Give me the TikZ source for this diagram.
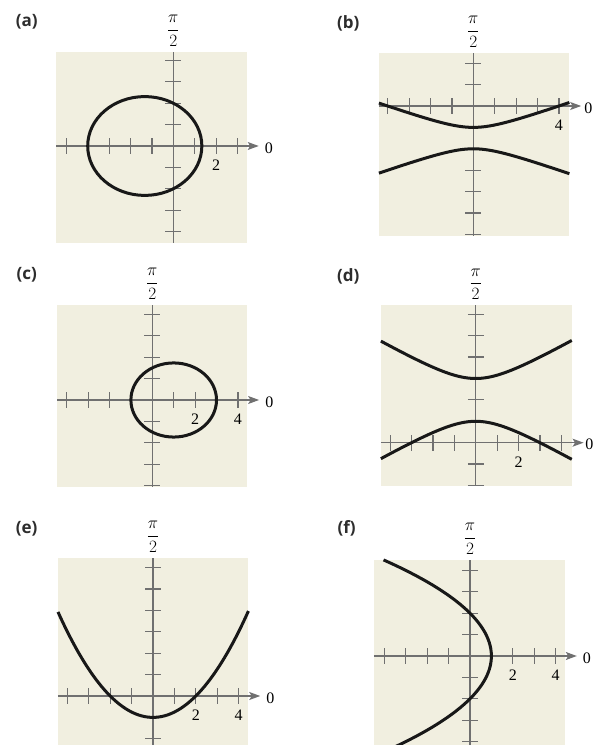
\documentclass[tikz,border=0pt]{standalone}
\usepackage{amsmath}
\usepackage{fontspec}
\setmainfont{Liberation Serif}
\newfontfamily\tagfont{Open Sans}
\usetikzlibrary{arrows.meta,positioning}
\definecolor{paper}{RGB}{241,239,224}
\definecolor{axisgray}{RGB}{112,112,112}
\definecolor{curveblack}{RGB}{24,24,24}
\definecolor{taggray}{RGB}{45,45,45}

% box, axes, ticks and the pi/2 label of one panel
% #1 panel id, #2 xmin, #3 xmax, #4 ymin, #5 ymax
\newcommand{\polargrid}[5]{%
  \fill[paper] (#2,#4) rectangle (#3,#5);
  \pgfmathtruncatemacro{\xlo}{ceil(#2)}
  \pgfmathtruncatemacro{\xhi}{floor(#3)}
  \pgfmathtruncatemacro{\ylo}{ceil(#4)}
  \pgfmathtruncatemacro{\yhi}{floor(#5)}
  \draw[axis] (0,#4) -- (0,#5);
  \draw[axis,-{Stealth[length=11pt,width=8pt,inset=2.5pt]}] (#2,0) -- (#3+0.55,0) coordinate (tip#1);
  \foreach \i in {\xlo,...,\xhi}
    \draw[axis] (\i,-0.37) -- (\i,0.37);
  \foreach \j in {\ylo,...,\yhi}
    \draw[axis] (-0.37,\j) -- (0.37,\j);
  \node[num,anchor=south] (half#1) at (0,#5+0.25) {$\dfrac{\pi}{2}$};
}

\begin{document}
\begin{tikzpicture}[x=1pt,y=1pt,
    axis/.style={axisgray,line width=1.2pt},
    curve/.style={curveblack,line width=3pt},
    num/.style={font=\fontsize{16}{16}\selectfont,inner sep=0pt},
    tag/.style={taggray,font=\tagfont\bfseries\fontsize{17}{17}\selectfont},
    panel/.style={x=21.4pt,y=21.4pt}]
  \useasboundingbox (0,0) rectangle (595,745);

  % (a) ellipse
  \node[tag] (taga) at (26.7,723.3) {(a)};
  \begin{scope}[shift={(173.3pt,599pt)},panel]
    \polargrid{a}{-5.48}{3.44}{-4.53}{4.39}
    \node[num,right=6pt of tipa,yshift=-2pt] (zeroa) {0};
    \node[num] (twoa) at (2,-0.91) {2};
    \draw[curve] (-1.333,0) ellipse [x radius=2.667,y radius=2.309];
  \end{scope}

  % (b) hyperbola, both vertices below the pole
  \node[tag] (tagb) at (348.3,721.7) {(b)};
  \begin{scope}[shift={(473.3pt,639pt)},panel]
    \polargrid{b}{-4.41}{4.49}{-6.07}{2.49}
    \node[num,right=3pt of tipb,yshift=-2pt] (zerob) {0};
    \node[num] (fourb) at (4,-0.91) {4};
    \draw[curve] plot[domain=-4.41:4.49,samples=60,smooth] (\x,{-1.5+0.5*sqrt(1+\x*\x/2)});
    \draw[curve] plot[domain=-4.41:4.49,samples=60,smooth] (\x,{-1.5-0.5*sqrt(1+\x*\x/2)});
  \end{scope}

  % (c) ellipse
  \node[tag] (tagc) at (26.7,470) {(c)};
  \begin{scope}[shift={(152.3pt,345pt)},panel]
    \polargrid{c}{-4.44}{4.44}{-4.05}{4.44}
    \node[num,right=6pt of tipc,yshift=-2pt] (zeroc) {0};
    \node[num] (twoc) at (2,-0.91) {2};
    \node[num] (fourc) at (4,-0.91) {4};
    \draw[curve] (1,0) ellipse [x radius=2,y radius=1.732];
  \end{scope}

  % (d) hyperbola, both vertices above the pole
  \node[tag] (tagd) at (348.3,469) {(d)};
  \begin{scope}[shift={(475.7pt,302.3pt)},panel]
    \polargrid{d}{-4.43}{4.49}{-2.02}{6.43}
    \node[num,right=1.5pt of tipd,yshift=-2pt] (zerod) {0};
    \node[num] (twod) at (2,-0.91) {2};
    \draw[curve] plot[domain=-4.43:4.49,samples=60,smooth] (\x,{2+sqrt(1+\x*\x/3)});
    \draw[curve] plot[domain=-4.43:4.49,samples=60,smooth] (\x,{2-sqrt(1+\x*\x/3)});
  \end{scope}

  % (e) parabola opening up
  \node[tag] (tage) at (26.7,216.7) {(e)};
  \begin{scope}[shift={(153pt,49pt)},panel]
    \polargrid{e}{-4.44}{4.46}{-3}{6.46}
    \node[num,right=6pt of tipe,yshift=-2pt] (zeroe) {0};
    \node[num] (twoe) at (2,-0.91) {2};
    \node[num] (foure) at (4,-0.91) {4};
    \draw[curve] plot[domain=-4.44:4.46,samples=60,smooth] (\x,{\x*\x/4-1});
  \end{scope}

  % (f) parabola opening left
  \node[tag] (tagf) at (346.7,216.7) {(f)};
  \begin{scope}[shift={(470pt,89pt)},panel]
    \polargrid{f}{-4.49}{4.44}{-4.5}{4.49}
    \node[num,right=6pt of tipf,yshift=-2pt] (zerof) {0};
    \node[num] (twof) at (2,-0.91) {2};
    \node[num] (fourf) at (4,-0.91) {4};
    \draw[curve] plot[domain=-4.6:4.49,samples=60,smooth] ({1-\x*\x/4},\x);
  \end{scope}
\end{tikzpicture}
\end{document}
